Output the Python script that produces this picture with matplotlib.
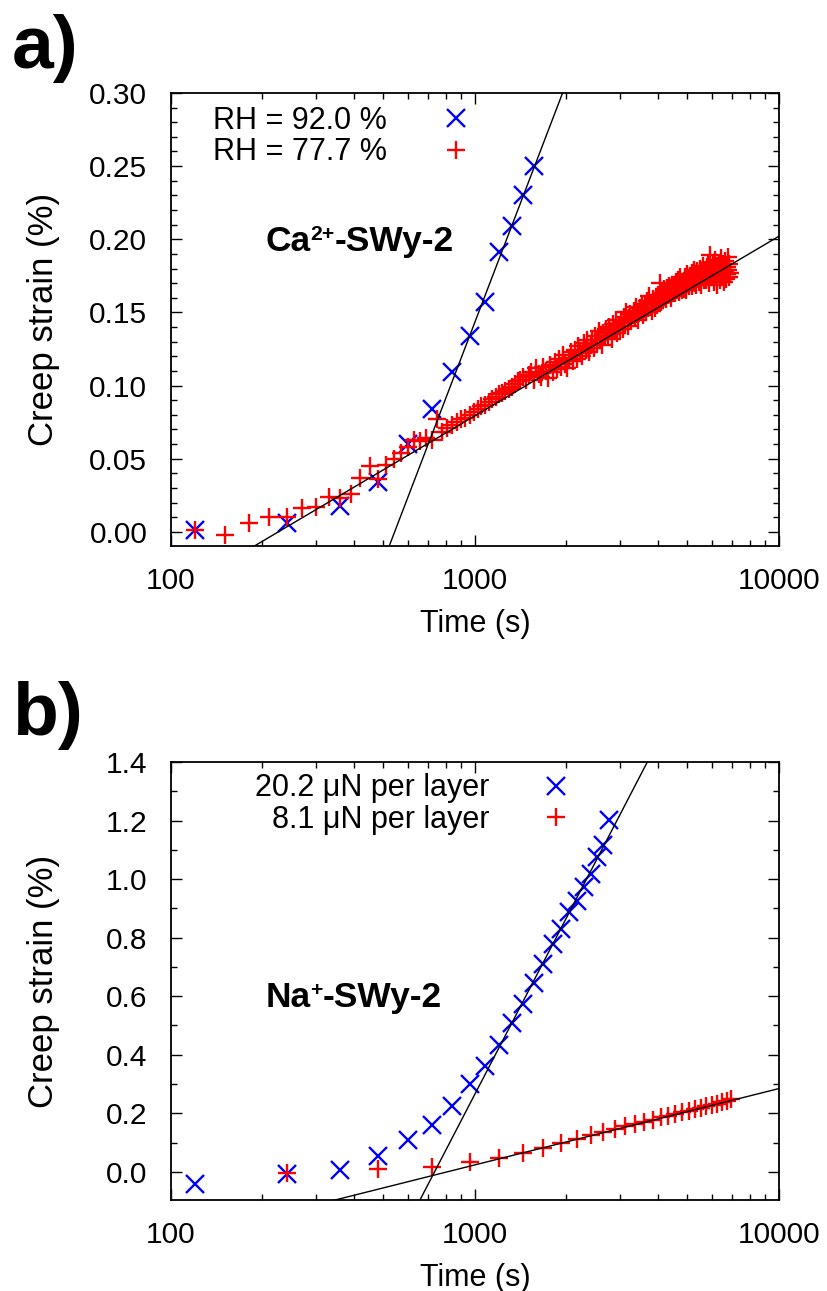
import matplotlib
matplotlib.use("Agg")
import matplotlib.pyplot as plt
import numpy as np
from matplotlib.ticker import FixedLocator, MultipleLocator, NullFormatter

plt.rcParams["font.family"] = ["Liberation Sans", "DejaVu Sans"]

# ---- panel a: Ca-SWy-2, two humidities ----
ca_t_92 = [120, 240, 360, 480, 600, 720, 840, 960, 1080, 1200, 1320, 1440, 1560]
ca_s_92 = [0.001, 0.006, 0.018, 0.034, 0.060, 0.084, 0.109, 0.134, 0.157, 0.191, 0.209, 0.230, 0.250]

ca_t_77 = [120, 150, 180, 210, 240, 270, 300, 330, 360, 390, 420, 450, 480, 510, 540,
           570, 600, 630, 660, 690, 720, 750, 780, 810, 840, 870, 900, 930, 960, 990,
           1020, 1050, 1080, 1110, 1140, 1170, 1200, 1230, 1260, 1290, 1320, 1350, 1380,
           1410, 1440, 1470, 1500,
           1530, 1560, 1590, 1620, 1650, 1680, 1710, 1740, 1770, 1800,
           1830, 1860, 1890, 1920, 1950, 1980, 2010, 2040, 2070, 2100,
           2130, 2160, 2190, 2220, 2250, 2280, 2310, 2340, 2370, 2400,
           2430, 2460, 2490, 2520, 2550, 2580, 2610, 2640, 2670, 2700,
           2730, 2760, 2790, 2820, 2850, 2880, 2910, 2940, 2970, 3000,
           3030, 3060, 3090, 3120, 3150, 3180, 3210, 3240, 3270, 3300,
           3330, 3360, 3390, 3420, 3450, 3480, 3510, 3540, 3570, 3600,
           3630, 3660, 3690, 3720, 3750, 3780, 3810, 3840, 3870, 3900,
           3930, 3960, 3990, 4020, 4050, 4080, 4110, 4140, 4170, 4200,
           4230, 4260, 4290, 4320, 4350, 4380, 4410, 4440, 4470, 4500,
           4530, 4560, 4590, 4620, 4650, 4680, 4710, 4740, 4770, 4800,
           4830, 4860, 4890, 4920, 4950, 4980, 5010, 5040, 5070, 5100,
           5130, 5160, 5190, 5220, 5250, 5280, 5310, 5340, 5370, 5400,
           5430, 5460, 5490, 5520, 5550, 5580, 5610, 5640, 5670, 5700,
           5730, 5760, 5790, 5820, 5850, 5880, 5910, 5940, 5970, 6000,
           6030, 6060, 6090, 6120, 6150, 6180, 6210, 6240, 6270, 6300,
           6330, 6360, 6390, 6420, 6450, 6480, 6510, 6540, 6570, 6600,
           6630, 6660, 6690, 6720, 6750, 6780, 6810, 6840, 6870, 6900]
ca_s_77 = [0.001, -0.002, 0.006, 0.010, 0.010, 0.016, 0.017, 0.024, 0.023, 0.026, 0.037,
           0.045, 0.036, 0.046, 0.050, 0.054, 0.058, 0.063, 0.062, 0.064, 0.063, 0.077,
           0.068, 0.071, 0.073, 0.075, 0.077, 0.078, 0.080, 0.082, 0.084, 0.086, 0.087,
           0.089, 0.091, 0.092, 0.094, 0.095, 0.096, 0.098, 0.099, 0.101, 0.103, 0.104,
           0.106, 0.104, 0.107,
           0.109, 0.104, 0.112, 0.108, 0.106, 0.113, 0.110, 0.105, 0.114, 0.109,
           0.116, 0.111, 0.118, 0.113, 0.121, 0.115, 0.112, 0.119, 0.123, 0.117,
           0.124, 0.118, 0.127, 0.122, 0.120, 0.129, 0.124, 0.131, 0.123, 0.128,
           0.131, 0.126, 0.134, 0.129, 0.137, 0.131, 0.128, 0.136, 0.133, 0.139,
           0.134, 0.140, 0.137, 0.132, 0.142, 0.138, 0.145, 0.136, 0.141, 0.139,
           0.144, 0.139, 0.147, 0.143, 0.150, 0.141, 0.146, 0.149, 0.144, 0.148,
           0.151, 0.146, 0.154, 0.149, 0.145, 0.153, 0.150, 0.156, 0.148, 0.152,
           0.155, 0.150, 0.158, 0.153, 0.161, 0.155, 0.151, 0.159, 0.156, 0.153,
           0.160, 0.155, 0.162, 0.158, 0.170, 0.157, 0.163, 0.159, 0.166, 0.161,
           0.164, 0.159, 0.167, 0.162, 0.168, 0.165, 0.160, 0.169, 0.163, 0.166,
           0.168, 0.163, 0.171, 0.166, 0.172, 0.164, 0.169, 0.174, 0.167, 0.165,
           0.171, 0.166, 0.174, 0.169, 0.165, 0.176, 0.170, 0.173, 0.168, 0.175,
           0.173, 0.168, 0.177, 0.171, 0.179, 0.170, 0.175, 0.169, 0.178, 0.173,
           0.176, 0.171, 0.180, 0.174, 0.169, 0.178, 0.182, 0.175, 0.172, 0.179,
           0.177, 0.172, 0.181, 0.175, 0.184, 0.170, 0.179, 0.189, 0.174, 0.180,
           0.176, 0.183, 0.171, 0.180, 0.186, 0.174, 0.178, 0.182, 0.169, 0.181,
           0.177, 0.184, 0.172, 0.180, 0.187, 0.175, 0.179, 0.183, 0.171, 0.181,
           0.178, 0.185, 0.173, 0.181, 0.176, 0.188, 0.179, 0.174, 0.183, 0.177]

# log fits: strain = a + b*log10(t)
ca_fit_92 = (-1.4855, 0.543)
ca_fit_77 = (-0.2887, 0.1227)

# ---- panel b: Na-SWy-2, two loads ----
na_t_20 = [120, 240, 360, 480, 600, 720, 840, 960, 1080, 1200, 1320, 1440, 1560, 1680,
           1800, 1920, 2040, 2160, 2280, 2400, 2520, 2640, 2760]
na_s_20 = [-0.042, -0.008, 0.006, 0.054, 0.108, 0.159, 0.226, 0.299, 0.360, 0.432, 0.509,
           0.572, 0.645, 0.709, 0.777, 0.831, 0.887, 0.924, 0.973, 1.018, 1.075, 1.118, 1.203]

na_t_8 = [240, 480, 720, 960, 1200, 1440, 1680, 1920, 2160, 2400, 2640, 2880, 3120, 3360,
          3600, 3840, 4080, 4320, 4560, 4800, 5040, 5280, 5520, 5760, 6000, 6240, 6480,
          6720, 6960]
na_s_8 = [-0.003, 0.009, 0.017, 0.034, 0.046, 0.063, 0.080, 0.097, 0.111, 0.125, 0.137,
          0.148, 0.157, 0.163, 0.171, 0.178, 0.186, 0.192, 0.198, 0.204, 0.209, 0.214,
          0.219, 0.224, 0.229, 0.233, 0.237, 0.241, 0.250]

na_fit_20 = (-5.734, 2.0)
na_fit_8 = (-0.7582, 0.2607)

FS = 21.5
MS = 12.5


def style_axis(ax, ylim, ymajor, yminor, yfmt):
    ax.set_xscale("log")
    ax.set_xlim(100, 10000)
    ax.set_ylim(*ylim)
    ax.xaxis.set_major_locator(FixedLocator([100, 1000, 10000]))
    minors = [m * d for d in (100, 1000) for m in range(2, 10)]
    ax.xaxis.set_minor_locator(FixedLocator(minors))
    ax.xaxis.set_minor_formatter(NullFormatter())
    ax.set_xticklabels(["100", "1000", "10000"])
    ax.yaxis.set_major_locator(MultipleLocator(ymajor))
    ax.yaxis.set_minor_locator(MultipleLocator(yminor))
    ax.yaxis.set_major_formatter(plt.FuncFormatter(lambda v, p: yfmt.format(v)))
    ax.tick_params(which="both", direction="in", top=True, right=True, labelsize=FS, width=1.0)
    ax.tick_params(which="major", length=8)
    ax.tick_params(which="minor", length=4.5)
    ax.tick_params(axis="x", pad=15)
    ax.tick_params(axis="y", pad=17)
    for sp in ax.spines.values():
        sp.set_linewidth(1.3)
    ax.set_xlabel("Time (s)", fontsize=22, labelpad=10)
    ax.set_ylabel("Creep strain (%)", fontsize=25)
    ax.yaxis.set_label_coords(-0.182, 0.5)


def draw_fit(ax, fit):
    t = np.logspace(2, 4, 200)
    ax.plot(t, fit[0] + fit[1] * np.log10(t), color="black", lw=1.0, zorder=3)


def sample_label(ax, x, y, base, sup, rest, size=25.5):
    # 手動拼出上標，避免 mathtext 把 "+" 當運算子加空白
    t1 = ax.text(x, y, base, transform=ax.transAxes, fontsize=size, fontweight="bold", va="baseline")
    t2 = ax.annotate(sup, xy=(1, 1), xycoords=t1, fontsize=size * 0.6, fontweight="bold",
                     va="top", ha="left")
    ax.annotate(rest, xy=(1, 0), xycoords=(t2, t1), fontsize=size, fontweight="bold",
                va="bottom", ha="left")


fig = plt.figure(figsize=(8.28, 12.91), dpi=100)
ax_a = fig.add_axes([0.2065, 0.577, 0.7343, 0.351])
ax_b = fig.add_axes([0.2065, 0.0705, 0.7343, 0.3393])

# panel a
ax_a.plot(ca_t_92, ca_s_92, "x", color="blue", ms=MS, mew=1.7, label="RH = 92.0 %", zorder=2)
ax_a.plot(ca_t_77, ca_s_77, "+", color="red", ms=MS, mew=1.7, label="RH = 77.7 %", zorder=2)
draw_fit(ax_a, ca_fit_92)
draw_fit(ax_a, ca_fit_77)
style_axis(ax_a, (-0.0097, 0.30), 0.05, 0.01, "{:.2f}")
ax_a.legend(loc="upper right", bbox_to_anchor=(0.494, 0.971), frameon=False, markerfirst=False,
            fontsize=22, handlelength=1.0, handletextpad=1.75, borderpad=0, borderaxespad=0,
            labelspacing=0.04)
sample_label(ax_a, 0.155, 0.651, "Ca", "2+", "-SWy-2")

# panel b
ax_b.plot(na_t_20, na_s_20, "x", color="blue", ms=MS, mew=1.7, label="20.2 μN per layer", zorder=2)
ax_b.plot(na_t_8, na_s_8, "+", color="red", ms=MS, mew=1.7, label="  8.1 μN per layer", zorder=2)
draw_fit(ax_b, na_fit_20)
draw_fit(ax_b, na_fit_8)
style_axis(ax_b, (-0.096, 1.4), 0.2, 0.1, "{:.1f}")
ax_b.legend(loc="upper right", bbox_to_anchor=(0.659, 0.974), frameon=False, markerfirst=False,
            fontsize=22, handlelength=1.0, handletextpad=1.7, borderpad=0, borderaxespad=0,
            labelspacing=0.04)
sample_label(ax_b, 0.155, 0.441, "Na", "+", "-SWy-2")

fig.text(0.014, 0.9473, "a)", fontsize=54, fontweight="bold", va="baseline")
fig.text(0.014, 0.4307, "b)", fontsize=54, fontweight="bold", va="baseline")

fig.savefig("out.png", dpi=100)
plt.close(fig)
